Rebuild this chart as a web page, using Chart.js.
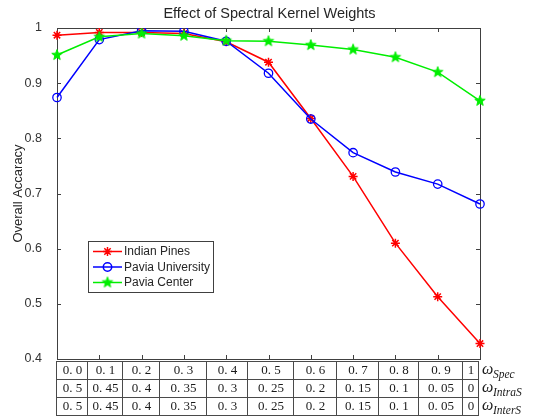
<!DOCTYPE html>
<html>
<head>
<meta charset="utf-8">
<script src="https://cdn.jsdelivr.net/npm/chart.js@4.4.1/dist/chart.umd.min.js"></script>
<style>
  html, body { margin: 0; padding: 0; background: #ffffff; }
  #wrap { width: 539px; height: 418px; position: relative; }
</style>
</head>
<body>
<div id="wrap"><canvas id="c" width="539" height="418"></canvas></div>
<script>
// Spectral kernel weight (x axis) and the two spatial weights that go with it
const weightSpec = [0.0, 0.1, 0.2, 0.3, 0.4, 0.5, 0.6, 0.7, 0.8, 0.9, 1.0];
const specLabels  = ['0. 0', '0. 1', '0. 2', '0. 3', '0. 4', '0. 5', '0. 6', '0. 7', '0. 8', '0. 9', '1'];
const intraLabels = ['0. 5', '0. 45', '0. 4', '0. 35', '0. 3', '0. 25', '0. 2', '0. 15', '0. 1', '0. 05', '0'];
const interLabels = ['0. 5', '0. 45', '0. 4', '0. 35', '0. 3', '0. 25', '0. 2', '0. 15', '0. 1', '0. 05', '0'];

// Overall accuracy per data set
const indianPines     = [0.987, 0.992, 0.992, 0.990, 0.975, 0.938, 0.836, 0.731, 0.610, 0.513, 0.428];
const paviaUniversity = [0.874, 0.979, 0.995, 0.994, 0.976, 0.918, 0.835, 0.774, 0.739, 0.717, 0.681];
const paviaCenter     = [0.951, 0.984, 0.990, 0.986, 0.977, 0.976, 0.969, 0.961, 0.947, 0.920, 0.868];

const yMin = 0.4, yMax = 1.0, yStep = 0.1;

const RED = '#ff0000', BLUE = '#0000ff', GREEN = '#00ee00';
const AXIS = '#404040';

// filled five-point star marker
function pentagram(color, r) {
  const s = Math.ceil(r * 2 + 3);
  const c = document.createElement('canvas');
  c.width = s; c.height = s;
  const g = c.getContext('2d');
  g.translate(s / 2, s / 2);
  g.beginPath();
  for (let i = 0; i < 10; i++) {
    const a = -Math.PI / 2 + i * Math.PI / 5;
    const rad = (i % 2) ? r * 0.42 : r;
    const px = Math.cos(a) * rad, py = Math.sin(a) * rad;
    if (i === 0) g.moveTo(px, py); else g.lineTo(px, py);
  }
  g.closePath();
  g.fillStyle = color; g.fill();
  g.strokeStyle = color; g.lineWidth = 1; g.stroke();
  return c;
}
const greenStar = pentagram(GREEN, 5.5);

function drawAsterisk(ctx, x, y, r, color) {
  ctx.save();
  ctx.strokeStyle = color; ctx.lineWidth = 1.5;
  ctx.beginPath();
  for (let k = 0; k < 4; k++) {
    const a = k * Math.PI / 4;
    ctx.moveTo(x - Math.cos(a) * r, y - Math.sin(a) * r);
    ctx.lineTo(x + Math.cos(a) * r, y + Math.sin(a) * r);
  }
  ctx.stroke();
  ctx.restore();
}

// box, inward ticks
const framePlugin = {
  id: 'frame',
  beforeDatasetsDraw(chart) {
    const { ctx, chartArea: a, scales } = chart;
    ctx.save();
    ctx.strokeStyle = AXIS; ctx.lineWidth = 1;
    ctx.strokeRect(a.left + 0.5, a.top + 0.5, a.right - a.left, a.bottom - a.top);
    ctx.beginPath();
    scales.y.ticks.forEach(t => {
      const p = Math.round(scales.y.getPixelForValue(t.value)) + 0.5;
      ctx.moveTo(a.left, p); ctx.lineTo(a.left + 4, p);
      ctx.moveTo(a.right, p); ctx.lineTo(a.right - 4, p);
    });
    weightSpec.forEach((v, i) => {
      const p = Math.round(scales.x.getPixelForValue(i)) + 0.5;
      ctx.moveTo(p, a.top); ctx.lineTo(p, a.top + 4);
      ctx.moveTo(p, a.bottom); ctx.lineTo(p, a.bottom - 4);
    });
    ctx.stroke();
    ctx.restore();
  }
};

// legend box in the lower left of the plot
const legendPlugin = {
  id: 'boxLegend',
  afterDatasetsDraw(chart) {
    const { ctx } = chart;
    const bx = 88, by = 241, bw = 125, bh = 51;
    ctx.save();
    ctx.fillStyle = '#ffffff';
    ctx.fillRect(bx, by, bw, bh);
    ctx.strokeStyle = AXIS; ctx.lineWidth = 1;
    ctx.strokeRect(bx + 0.5, by + 0.5, bw, bh);
    ctx.font = '12px "Liberation Sans", Arial, sans-serif';
    ctx.textBaseline = 'middle';
    chart.data.datasets.forEach((ds, i) => {
      const yy = by + 10.5 + i * 15.5;
      ctx.strokeStyle = ds.borderColor; ctx.lineWidth = 1.5;
      ctx.beginPath(); ctx.moveTo(bx + 5, yy); ctx.lineTo(bx + 34, yy); ctx.stroke();
      const mx = bx + 19.5;
      if (i === 0) drawAsterisk(ctx, mx, yy, 4.5, ds.borderColor);
      else if (i === 1) {
        ctx.beginPath(); ctx.arc(mx, yy, 4.2, 0, Math.PI * 2); ctx.stroke();
      } else {
        ctx.drawImage(greenStar, mx - greenStar.width / 2, yy - greenStar.height / 2);
      }
      ctx.fillStyle = '#262626';
      ctx.fillText(ds.label, bx + 36, yy + 0.5);
    });
    ctx.restore();
  }
};

// weight table under the axis
const tablePlugin = {
  id: 'weightTable',
  afterDraw(chart) {
    const { ctx } = chart;
    const cols = [56, 87, 122, 159, 206, 247, 293, 336, 378, 418, 462, 478];
    const rows = [361, 379, 397, 415];
    const tableRows = [specLabels, intraLabels, interLabels];
    const subs = ['Spec', 'IntraS', 'InterS'];
    ctx.save();
    ctx.strokeStyle = '#4a4a4a'; ctx.lineWidth = 1;
    ctx.beginPath();
    rows.forEach(r => { ctx.moveTo(cols[0], r + 0.5); ctx.lineTo(cols[cols.length - 1] + 1, r + 0.5); });
    cols.forEach(c => { ctx.moveTo(c + 0.5, rows[0]); ctx.lineTo(c + 0.5, rows[rows.length - 1] + 1); });
    ctx.stroke();
    ctx.fillStyle = '#1a1a1a';
    ctx.textBaseline = 'middle';
    tableRows.forEach((labels, r) => {
      const cy = (rows[r] + rows[r + 1]) / 2 + 1;
      ctx.font = '13px "Liberation Serif", "DejaVu Serif", serif';
      ctx.textAlign = 'center';
      labels.forEach((t, i) => ctx.fillText(t, (cols[i] + cols[i + 1]) / 2 + 1, cy));
      ctx.textAlign = 'left';
      ctx.font = 'italic 16px "Liberation Serif", "DejaVu Serif", serif';
      ctx.fillText('ω', 482, cy - 1);
      ctx.font = 'italic 11.5px "Liberation Serif", "DejaVu Serif", serif';
      ctx.fillText(subs[r], 493, cy + 4);
    });
    ctx.restore();
  }
};

new Chart(document.getElementById('c'), {
  type: 'line',
  data: {
    labels: weightSpec,
    datasets: [
      {
        label: 'Indian Pines', data: indianPines,
        borderColor: RED, backgroundColor: RED, borderWidth: 1.5,
        pointStyle: 'star', pointRadius: 4.5, pointBorderWidth: 1.5,
        pointBorderColor: RED, pointBackgroundColor: RED,
        tension: 0, order: 3
      },
      {
        label: 'Pavia University', data: paviaUniversity,
        borderColor: BLUE, backgroundColor: BLUE, borderWidth: 1.5,
        pointStyle: 'circle', pointRadius: 4.2, pointBorderWidth: 1.3,
        pointBorderColor: BLUE, pointBackgroundColor: 'rgba(0,0,0,0)',
        tension: 0, order: 2
      },
      {
        label: 'Pavia Center', data: paviaCenter,
        borderColor: GREEN, backgroundColor: GREEN, borderWidth: 1.5,
        pointStyle: greenStar, pointRadius: 5.5,
        tension: 0, order: 1
      }
    ]
  },
  options: {
    responsive: false,
    animation: false,
    devicePixelRatio: 1,
    layout: { padding: 0 },
    plugins: {
      legend: { display: false },
      tooltip: { enabled: false },
      title: {
        display: true,
        text: 'Effect of Spectral Kernel Weights',
        color: '#262626',
        font: { family: '"Liberation Sans", Arial, sans-serif', size: 14.5, weight: 'normal' },
        padding: { top: 5, bottom: 5.6 }
      }
    },
    scales: {
      x: {
        type: 'category',
        offset: false,
        grid: { display: false },
        border: { display: false },
        ticks: { display: false },
        afterFit(s) { s.height = 59; }
      },
      y: {
        min: yMin, max: yMax,
        grid: { display: false },
        border: { display: false },
        ticks: {
          stepSize: yStep,
          padding: 7,
          color: '#333333',
          font: { family: '"Liberation Sans", Arial, sans-serif', size: 12.5 },
          callback: v => { const r = Math.round(v * 10) / 10; return r === 1 ? '1' : r.toFixed(1); }
        },
        title: {
          display: true,
          text: 'Overall Accaracy',
          color: '#262626',
          font: { family: '"Liberation Sans", Arial, sans-serif', size: 13 },
          padding: { top: 11, bottom: 0 }
        },
        afterFit(s) { s.width = 57; }
      },
      // empty right-hand axis that reserves the margin used by the weight labels
      yRight: {
        position: 'right',
        min: yMin, max: yMax,
        grid: { display: false },
        border: { display: false },
        ticks: { display: false },
        afterFit(s) { s.width = 59; }
      }
    }
  },
  plugins: [framePlugin, legendPlugin, tablePlugin]
});
</script>
</body>
</html>
